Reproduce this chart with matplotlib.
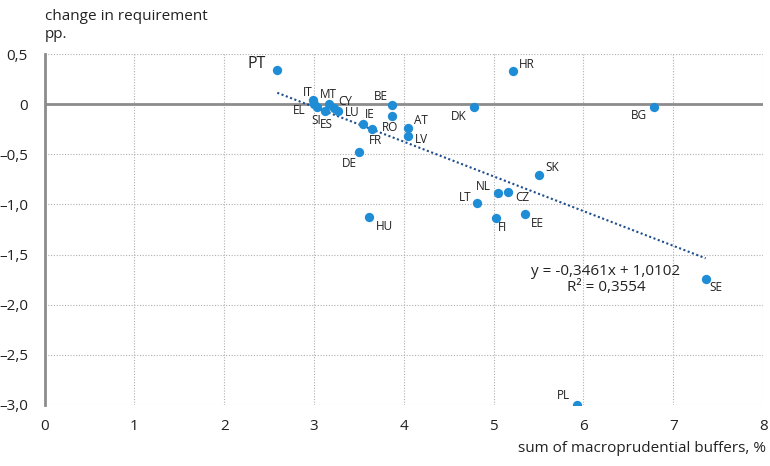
import matplotlib.pyplot as plt
import numpy as np

# Data
countries = ["PT", "IT", "EL", "SI", "MT", "CY", "ES", "LU", "BE", "RO", "IE", "FR",
             "AT", "LV", "DE", "HU", "HR", "DK", "BG", "SK", "NL", "CZ", "LT", "FI",
             "EE", "SE", "PL"]
buffers = [2.59, 2.99, 3.00, 3.03, 3.17, 3.22, 3.12, 3.27, 3.87, 3.87, 3.54, 3.64,
           4.05, 4.05, 3.50, 3.61, 5.21, 4.78, 6.78, 5.51, 5.05, 5.16, 4.81, 5.03,
           5.35, 7.36, 5.93]
change = [0.34, 0.04, 0.00, -0.03, 0.00, -0.04, -0.07, -0.07, -0.01, -0.12, -0.20, -0.25,
          -0.24, -0.32, -0.48, -1.13, 0.33, -0.03, -0.03, -0.71, -0.89, -0.88, -0.99, -1.14,
          -1.10, -1.74, -3.00]
slope, intercept, r2 = -0.3461, 1.0102, 0.3554

# label offsets in pixels (dx, dy)
offsets = {"PT": (-16, 6), "IT": (-6, 8), "EL": (-14, -6), "SI": (-1, -13), "MT": (-1, 10),
           "CY": (9, 7), "ES": (2, -13), "LU": (12, -1), "BE": (-9, 9), "RO": (-2, -11),
           "IE": (7, 10), "FR": (4, -11), "AT": (11, 8), "LV": (12, -3), "DE": (-7, -11),
           "HU": (12, -9), "HR": (11, 7), "DK": (-12, -9), "BG": (-12, -8), "SK": (11, 8),
           "NL": (-12, 7), "CZ": (12, -5), "LT": (-10, 6), "FI": (7, -9), "EE": (11, -9),
           "SE": (9, -9), "PL": (-12, 9)}

plt.rcParams['font.family'] = ['Open Sans', 'DejaVu Sans']

fig = plt.figure(figsize=(7.7, 4.66), dpi=100)
ax = fig.add_axes([0.058, 0.131, 0.933, 0.753])

ax.set_xlim(0, 8)
ax.set_ylim(-3.0, 0.5)
ax.set_xticks(range(0, 9))
ax.set_yticks(np.arange(-3.0, 0.51, 0.5))
ax.set_yticklabels([("%.1f" % v).replace(".", ",").replace("-", "\u2013").replace("0,0", "0")
                    for v in np.arange(-3.0, 0.51, 0.5)])
ax.tick_params(length=0, labelsize=11, colors="#222222")
ax.tick_params(axis="x", pad=10)
ax.tick_params(axis="y", pad=12)
ax.grid(True, linestyle=(0, (1, 1.5)), color="#b0b0b0", linewidth=0.8)
ax.set_axisbelow(True)
for s in ["top", "right", "bottom"]:
    ax.spines[s].set_visible(False)
ax.spines["left"].set_color("#8c8c8c")
ax.spines["left"].set_linewidth(2)
ax.axhline(0, color="#8c8c8c", linewidth=2, zorder=1)

# trend line
xs = np.array([min(buffers), max(buffers)])
ax.plot(xs, slope * xs + intercept, color="#1f4e8c", linestyle=(0, (1, 1.2)), linewidth=1.5, zorder=2)

ax.scatter(buffers, change, s=45, color="#1f8dd6", zorder=3, linewidths=0)

for c, x, y in zip(countries, buffers, change):
    dx, dy = offsets[c]
    ha = "center" if abs(dx) < 5 else ("left" if dx > 0 else "right")
    if abs(dx) >= 5:
        dx = dx - 5 if dx > 0 else dx + 5
    ax.annotate(c, (x, y), xytext=(dx, dy), textcoords="offset pixels", ha=ha, va="center",
                fontsize=11.5 if c == "PT" else 8.5, color="#222222")

ax.text(6.25, -1.75, "y = -0,3461x + 1,0102\nR² = 0,3554", ha="center", va="center",
        fontsize=11, color="#222222", linespacing=1.05)

fig.text(45 / 770, 1 - 16 / 466, "change in requirement", fontsize=11, va="center", color="#222222")
fig.text(45 / 770, 1 - 34 / 466, "pp.", fontsize=11, va="center", color="#222222")
fig.text(766 / 770, 1 - 448 / 466, "sum of macroprudential buffers, %", fontsize=11,
         va="center", ha="right", color="#222222")

fig.savefig("out.png", dpi=100)
